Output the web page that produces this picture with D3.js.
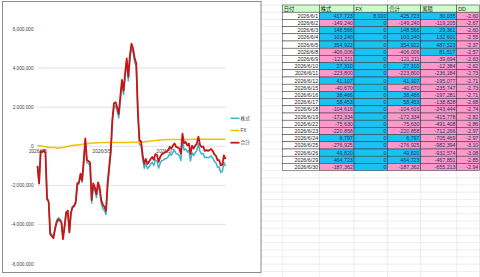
<!DOCTYPE html>
<html><head><meta charset="utf-8">
<script src="https://cdn.jsdelivr.net/npm/d3@7"></script>
<style>html,body{margin:0;padding:0;background:#fff;overflow:hidden}svg{display:block}</style>
</head><body>
<svg id="c" width="480" height="277"></svg>
<script>
// ---------- chart data ----------
const dates = [
"2026/1/5","2026/1/6","2026/1/7","2026/1/8","2026/1/9","2026/1/13","2026/1/14","2026/1/15","2026/1/16","2026/1/19",
"2026/1/20","2026/1/21","2026/1/22","2026/1/23","2026/1/26","2026/1/27","2026/1/28","2026/1/29","2026/1/30",
"2026/2/2","2026/2/3","2026/2/4","2026/2/5","2026/2/6","2026/2/9","2026/2/10","2026/2/12","2026/2/13","2026/2/16",
"2026/2/17","2026/2/18","2026/2/19","2026/2/20","2026/2/24","2026/2/25","2026/2/26","2026/2/27",
"2026/3/2","2026/3/3","2026/3/4","2026/3/5","2026/3/6","2026/3/9","2026/3/10","2026/3/11","2026/3/12","2026/3/13",
"2026/3/16","2026/3/17","2026/3/18","2026/3/19","2026/3/23","2026/3/24","2026/3/25","2026/3/26","2026/3/27","2026/3/30","2026/3/31",
"2026/4/1","2026/4/2","2026/4/3","2026/4/6","2026/4/7","2026/4/8","2026/4/9","2026/4/10","2026/4/13","2026/4/14",
"2026/4/15","2026/4/16","2026/4/17","2026/4/20","2026/4/21","2026/4/22","2026/4/23","2026/4/24","2026/4/27","2026/4/28","2026/4/30",
"2026/5/1","2026/5/7","2026/5/8","2026/5/11","2026/5/12","2026/5/13","2026/5/14","2026/5/15","2026/5/18","2026/5/19",
"2026/5/20","2026/5/21","2026/5/22","2026/5/25","2026/5/26","2026/5/27","2026/5/28","2026/5/29",
"2026/6/1","2026/6/2","2026/6/3","2026/6/4","2026/6/5","2026/6/8","2026/6/9","2026/6/10","2026/6/11","2026/6/12",
"2026/6/15","2026/6/16","2026/6/17","2026/6/18","2026/6/19","2026/6/22","2026/6/23","2026/6/24","2026/6/25","2026/6/26",
"2026/6/29","2026/6/30"];

const seriesNames = ["株式", "FX", "合計"];

const stock = [
-1030000,-1920000,-260000,-300000,-190000,-330000,-2660000,-2790000,-4430000,-4530000,
-4630000,-4170000,-3810000,-3660000,-3710000,-3820000,-4680000,-4050000,-3370000,-3290000,
-4410000,-3430000,-3140000,-3100000,-2910000,-1970000,-1930000,-1490000,-1850000,-860000,
280000,-830000,-890000,-1000000,-2910000,-2065000,-2270000,-2625000,-2030000,-2285000,
-2940000,-3190000,-3290000,-3492000,-2092000,-1243000,-393000,1206000,2006000,2055000,
1805000,1454000,2354000,3203000,2653000,3552000,4302000,3352000,4451000,5051000,
4801000,4300000,4050000,1600000,100000,45000,-665000,-1125000,-885000,-1145000,
-1055000,-915000,-825000,-985000,-695000,-755000,-1112000,-868000,-724000,-710000,
-635000,-630000,-542000,-373000,-464000,-295000,-206000,-377000,-408000,-468000,
-729000,301000,-200000,-130000,-300000,-210000,-745688,
-327965,-477205,-328639,-225399,129523,-276483,-397694,-370384,-594184,-553077,
-593747,-555281,-496828,-601444,-773778,-849408,-1070266,-1063469,-1340394,-1290574,
-825851,-1013213];

const fx = [
30000,20000,10000,0,-10000,-20000,-40000,-60000,-70000,-70000,
-70000,-80000,-90000,-90000,-90000,-80000,-70000,-50000,-30000,-10000,
10000,30000,40000,50000,60000,70000,80000,90000,100000,110000,
120000,130000,140000,150000,160000,165000,170000,175000,180000,185000,
190000,190000,190000,192000,192000,193000,193000,194000,194000,195000,
195000,196000,196000,197000,197000,198000,198000,198000,199000,199000,
199000,200000,200000,200000,200000,205000,215000,225000,235000,245000,
255000,265000,275000,285000,295000,305000,312000,318000,324000,330000,
335000,340000,342000,343000,344000,345000,346000,347000,348000,348000,
349000,349000,350000,350000,350000,350000,350000,
358000,358000,358000,358000,358000,358000,358000,358000,358000,358000,
358000,358000,358000,358000,358000,358000,358000,358000,358000,358000,
358000,358000];

const total = [
-1000000,-1900000,-250000,-300000,-200000,-350000,-2700000,-2850000,-4500000,-4600000,
-4700000,-4250000,-3900000,-3750000,-3800000,-3900000,-4750000,-4100000,-3400000,-3300000,
-4400000,-3400000,-3100000,-3050000,-2850000,-1900000,-1850000,-1400000,-1750000,-750000,
400000,-700000,-750000,-850000,-2750000,-1900000,-2100000,-2450000,-1850000,-2100000,
-2750000,-3000000,-3100000,-3300000,-1900000,-1050000,-200000,1400000,2200000,2250000,
2000000,1650000,2550000,3400000,2850000,3750000,4500000,3550000,4650000,5250000,
5000000,4500000,4250000,1800000,300000,250000,-450000,-900000,-650000,-900000,
-800000,-650000,-550000,-700000,-400000,-450000,-800000,-550000,-400000,-380000,
-300000,-290000,-200000,-30000,-120000,50000,140000,-30000,-60000,-120000,
-380000,650000,150000,220000,50000,140000,-395688,
30035,-119205,29361,132601,487523,81517,-39694,-12384,-236184,-195077,
-235747,-197281,-138828,-243444,-415778,-491408,-712266,-705469,-982394,-932574,
-467851,-655213];

const yTicks = [-6000000,-4000000,-2000000,0,2000000,4000000,6000000];
const gridTicks = [-4000000,-2000000,0,2000000,4000000];
const xTickLabels = ["2026/1/5","2026/3/5","2026/5/7"];

// ---------- table data ----------
const tblHeader = ["日付","株式","FX","合計","累積","DD"];
const tblDates = ["2026/6/1","2026/6/2","2026/6/3","2026/6/4","2026/6/5","2026/6/8","2026/6/9","2026/6/10","2026/6/11","2026/6/12","2026/6/15","2026/6/16","2026/6/17","2026/6/18","2026/6/19","2026/6/22","2026/6/23","2026/6/24","2026/6/25","2026/6/26","2026/6/29","2026/6/30"];
const tblStock = [417723,-149240,148566,103240,354922,-406006,-121211,27310,-223800,41107,-40670,38466,58453,-104616,-172334,-75630,-220858,6797,-276925,49820,464723,-187362];
const tblFx = [8000,0,0,0,0,0,0,0,0,0,0,0,0,0,0,0,0,0,0,0,0,0];
const tblTotal = [425723,-149240,148566,103240,354922,-406006,-121211,27310,-223800,41107,-40670,38466,58453,-104616,-172334,-75630,-220858,6797,-276925,49820,464723,-187362];
const tblCum = [30035,-119205,29361,132601,487523,81517,-39694,-12384,-236184,-195077,-235747,-197281,-138828,-243444,-415778,-491408,-712266,-705469,-982394,-932574,-467851,-655213];
const tblDD = [-2.60,-2.67,-2.60,-2.55,-2.37,-2.57,-2.63,-2.62,-2.73,-2.71,-2.73,-2.71,-2.68,-2.74,-2.82,-2.86,-2.97,-2.97,-3.10,-3.08,-2.85,-2.94];

// ---------- styles ----------
const colors = {"株式":"#3bb4c8","FX":"#f5c000","合計":"#cc1414"};
const widths = {"株式":1.5,"FX":1.5,"合計":1.8};
const FONT = "'Liberation Sans','Noto Sans CJK JP',sans-serif";

const svg = d3.select("#c");

// ---------- spreadsheet background grid ----------
const colEdges = [261, 282.3, 319.3, 354, 387.7, 420.7, 456.7, 479.5];
const rowTop = 5, rowH = 7.2;
const sheet = svg.append("g");
for (let k = -1; rowTop + k*rowH <= 277; k++) {
  sheet.append("line").attr("x1",261).attr("x2",480)
    .attr("y1",rowTop+k*rowH).attr("y2",rowTop+k*rowH)
    .attr("stroke","#e2e2e2").attr("stroke-width",0.6);
}
colEdges.forEach(x => sheet.append("line").attr("x1",x).attr("x2",x).attr("y1",0).attr("y2",277)
  .attr("stroke","#e2e2e2").attr("stroke-width",0.6));

// ---------- table ----------
const fmt = v => d3.format(",")(v).replace("−","-");
const fmtDD = v => d3.format(".2f")(v).replace("−","-");
const POS = "#19c2f0", NEG = "#ff99cc", HEAD = "#ccffcc";
const cols = [
  {vals: tblDates, kind:"date"},
  {vals: tblStock, kind:"num"},
  {vals: tblFx, kind:"num"},
  {vals: tblTotal, kind:"num"},
  {vals: tblCum, kind:"num"},
  {vals: tblDD, kind:"dd"}
];
const tbl = svg.append("g");
tblHeader.forEach((h,c) => {
  const x0 = colEdges[c+1], x1 = colEdges[c+2];
  tbl.append("rect").attr("x",x0).attr("y",rowTop).attr("width",x1-x0).attr("height",rowH)
    .attr("fill",HEAD).attr("stroke","#333").attr("stroke-width",0.5);
  tbl.append("text").attr("x",x0+1.5).attr("y",rowTop+rowH-1.6).text(h)
    .attr("font-family",FONT).attr("font-size",5.3).attr("fill","#222");
});
cols.forEach((col,c) => {
  const x0 = colEdges[c+1], x1 = colEdges[c+2];
  col.vals.forEach((v,r) => {
    const y0 = rowTop + (r+1)*rowH;
    let fill = "#fff";
    if (col.kind !== "date") fill = v >= 0 ? POS : NEG;
    tbl.append("rect").attr("x",x0).attr("y",y0).attr("width",x1-x0).attr("height",rowH)
      .attr("fill",fill).attr("stroke","#333").attr("stroke-width",0.5);
    const txt = col.kind==="date" ? v : (col.kind==="dd" ? fmtDD(v) : fmt(v));
    tbl.append("text").attr("x",x1-1.2).attr("y",y0+rowH-1.6).attr("text-anchor","end").text(txt)
      .attr("font-family",FONT).attr("font-size",5.3)
      .attr("fill", col.kind==="date" ? "#222" : "#23306a");
  });
});

// ---------- chart ----------
svg.append("rect").attr("x",2.5).attr("y",1.5).attr("width",258.5).attr("height",271)
  .attr("fill","#fff").attr("stroke","#8c8c8c").attr("stroke-width",1);

const x = d3.scalePoint().domain(dates).range([37.5, 225.5]);
const y = d3.scaleLinear().domain([-6000000, 6000000]).range([263.5, 29]);

const g = svg.append("g");
g.selectAll("line.grid").data(gridTicks).join("line").attr("class","grid")
  .attr("x1",37.5).attr("x2",226).attr("y1",d=>y(d)).attr("y2",d=>y(d))
  .attr("stroke","#d9d9d9").attr("stroke-width",0.8);

const yAxis = g.append("g").attr("transform","translate(33.5,0)")
  .call(d3.axisLeft(y).tickValues(yTicks).tickSize(0).tickPadding(0)
    .tickFormat(d => d3.format(",")(d).replace("−","-")));
yAxis.select(".domain").remove();
yAxis.selectAll("text").attr("font-family",FONT).attr("font-size",4.7).attr("fill","#404040");

const xAxis = g.append("g").attr("transform",`translate(0,${y(0)})`)
  .call(d3.axisBottom(x).tickValues(xTickLabels).tickSize(0).tickPadding(3));
xAxis.select(".domain").remove();
xAxis.selectAll("text").attr("font-family",FONT).attr("font-size",4.7).attr("fill","#404040");

const seriesData = {"株式": stock, "FX": fx, "合計": total};
const line = d3.line().x((d,i)=>x(dates[i])).y(d=>y(d));
seriesNames.forEach(n => {
  g.append("path").datum(seriesData[n]).attr("d",line).attr("fill","none")
    .attr("stroke",colors[n]).attr("stroke-width",widths[n]).attr("stroke-linejoin","round");
});

// legend
const leg = g.append("g");
const legY = [118.3, 130.5, 142.7];
seriesNames.forEach((n,i) => {
  leg.append("line").attr("x1",230.5).attr("x2",239.5).attr("y1",legY[i]).attr("y2",legY[i])
    .attr("stroke",colors[n]).attr("stroke-width",widths[n]);
  leg.append("text").attr("x",240.5).attr("y",legY[i]+1.6).text(n)
    .attr("font-family",FONT).attr("font-size",4.7).attr("fill","#404040");
});
</script>
</body></html>
